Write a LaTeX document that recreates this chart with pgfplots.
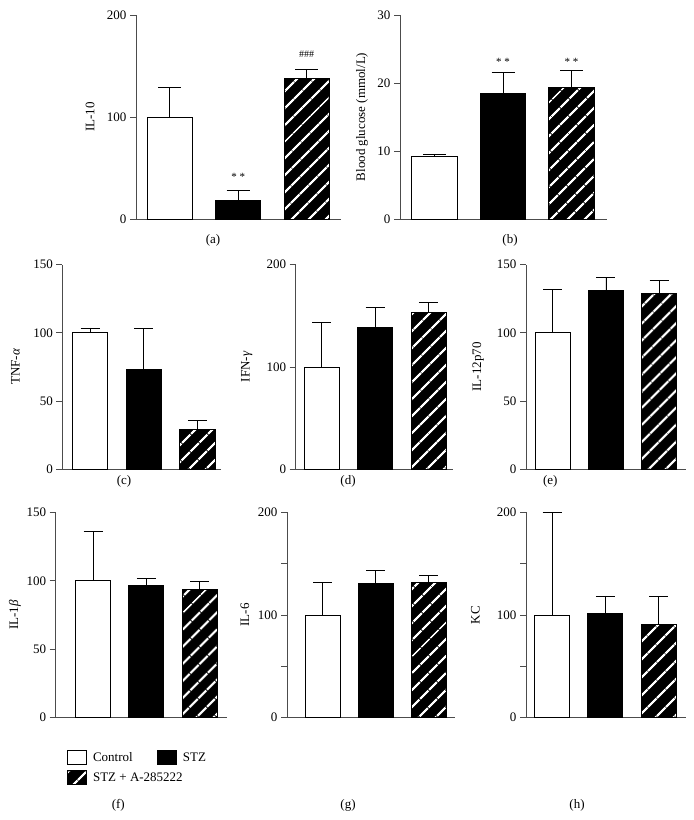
\documentclass[border=0pt]{standalone}
\usepackage{fontspec}
\setmainfont{Liberation Serif}
\usepackage{pgfplots}
\pgfplotsset{compat=1.18}
\usetikzlibrary{patterns.meta}

\newcommand{\tfont}{\fontsize{13}{15}\selectfont}

\pgfplotsset{
  panel/.style={
    scale only axis,
    anchor=south west,
    axis lines*=left,
    axis line style={black!70, line width=0.8pt},
    xtick=\empty,
    ymin=0,
    ytick pos=left,
    tick align=outside,
    major tick length=6pt,
    every tick/.style={black!70, line width=0.8pt},
    yticklabel style={font=\tfont},
    /pgf/number format/assume math mode=true,
    ylabel style={font=\tfont},
    clip=false,
  },
  % #1 = half width of the error cap
  errb/.style={error bars/.cd, y dir=plus, y explicit,
    error bar style={black, line width=0.8pt},
    error mark options={rotate=90, black, line width=0.8pt, mark size=#1}},
  ctrl/.style={ybar, bar shift=0pt, fill=white, draw=black, line width=0.8pt, errb=#1},
  stz/.style={ybar, bar shift=0pt, fill=black, draw=black, line width=0.8pt, errb=#1},
  stza/.style={ybar, bar shift=0pt, fill=black, draw=black, line width=0.8pt,
    postaction={pattern={Lines[angle=45, distance=13pt, line width=2.4pt]}, pattern color=white},
    errb=#1},
}

\begin{document}
\begin{tikzpicture}
\path[use as bounding box] (0,0) rectangle (694pt,820pt);

% (a) IL-10
\begin{axis}[panel, at={(136pt,601pt)}, width=205pt, height=204pt,
  xmin=-0.49, xmax=2.50, ymax=200, ytick={0,100,200}, bar width=0.657,
  ylabel={IL-10}, ylabel style={at={(axis description cs:-0.224,0.5)}, anchor=center}]
\addplot[ctrl=11.5pt] coordinates {(0,100) +- (0,29.4)};
\addplot[stz=11.5pt] coordinates {(1,18.6) +- (0,9.8)};
\addplot[stza=11.5pt] coordinates {(2,138.2) +- (0,8.5)};
\node[font=\fontsize{11}{12}\selectfont] at (axis cs:1,41) {* *};
\node[font=\fontsize{10}{11}\selectfont] at (axis cs:2,161.8) {\#\#\#};
\end{axis}

% (b) Blood glucose
\begin{axis}[panel, at={(400pt,601pt)}, width=207pt, height=204pt,
  xmin=-0.504, xmax=2.518, ymax=30, ytick={0,10,20,30}, bar width=0.664,
  ylabel={Blood glucose (mmol/L)}, ylabel style={at={(axis description cs:-0.184,0.5)}, anchor=center}]
\addplot[ctrl=11.5pt] coordinates {(0,9.16) +- (0,0.3)};
\addplot[stz=11.5pt] coordinates {(1,18.4) +- (0,3.2)};
\addplot[stza=11.5pt] coordinates {(2,19.4) +- (0,2.5)};
\node[font=\fontsize{11}{12}\selectfont] at (axis cs:1,23.1) {* *};
\node[font=\fontsize{11}{12}\selectfont] at (axis cs:2,23.1) {* *};
\end{axis}

% (c) TNF-alpha
\begin{axis}[panel, at={(62.3pt,350.7pt)}, width=158.7pt, height=204.6pt,
  xmin=-0.516, xmax=2.44, ymax=150, ytick={0,50,100,150}, bar width=0.657,
  ylabel={TNF-{\itshape α}}, ylabel style={at={(axis description cs:-0.296,0.5)}, anchor=center}]
\addplot[ctrl=9.5pt] coordinates {(0,100) +- (0,3.6)};
\addplot[stz=9.5pt] coordinates {(1,73.5) +- (0,29.6)};
\addplot[stza=9.5pt] coordinates {(2,29.3) +- (0,6.6)};
\end{axis}

% (d) IFN-gamma
\begin{axis}[panel, at={(295.7pt,350.7pt)}, width=157.3pt, height=204.6pt,
  xmin=-0.49, xmax=2.46, ymax=200, ytick={0,100,200}, bar width=0.657,
  ylabel={IFN-{\itshape γ}}, ylabel style={at={(axis description cs:-0.311,0.5)}, anchor=center}]
\addplot[ctrl=9.5pt] coordinates {(0,100) +- (0,43.7)};
\addplot[stz=9.5pt] coordinates {(1,138.8) +- (0,19.2)};
\addplot[stza=9.5pt] coordinates {(2,153.8) +- (0,9.1)};
\end{axis}

% (e) IL-12p70
\begin{axis}[panel, at={(526pt,350.7pt)}, width=160.3pt, height=204.6pt,
  xmin=-0.504, xmax=2.51, ymax=150, ytick={0,50,100,150}, bar width=0.657,
  ylabel={IL-12p70}, ylabel style={at={(axis description cs:-0.299,0.5)}, anchor=center}]
\addplot[ctrl=9.5pt] coordinates {(0,100) +- (0,31.7)};
\addplot[stz=9.5pt] coordinates {(1,131) +- (0,9.8)};
\addplot[stza=9.5pt] coordinates {(2,128.7) +- (0,9.6)};
\end{axis}

% (f) IL-1beta, holds the legend
\begin{axis}[panel, at={(55.7pt,102.3pt)}, width=171pt, height=205.4pt,
  xmin=-0.705, xmax=2.51, ymax=150, ytick={0,50,100,150}, bar width=0.658,
  ylabel={IL-1{\itshape β}}, ylabel style={at={(axis description cs:-0.238,0.5)}, anchor=center},
  legend columns=2,
  legend cell align=left,
  legend image code/.code={\draw[#1] (0pt,-7pt) rectangle (19pt,7pt);},
  legend style={at={(axis description cs:0.049,-0.143)}, anchor=north west,
    draw=none, fill=none, font=\tfont, row sep=4pt,
    nodes={inner sep=3pt}}]
\addplot[ctrl=9.5pt] coordinates {(0,100) +- (0,36.2)};
\addlegendentry{\hspace{3pt}\makebox[61pt][l]{Control}}
\addplot[stz=9.5pt] coordinates {(1,96.4) +- (0,5.2)};
\addlegendentry{\hspace{3pt}STZ}
\addplot[stza=9.5pt] coordinates {(2,93.5) +- (0,6.4)};
\addlegendentry{\hspace{3pt}\makebox[61pt][l]{STZ + A-285222}}
\end{axis}

% (g) IL-6
\begin{axis}[panel, at={(287pt,102.3pt)}, width=168.3pt, height=205.4pt,
  xmin=-0.675, xmax=2.5, ymax=200, ytick={0,50,100,150,200}, yticklabels={0,,100,,200},
  bar width=0.658,
  ylabel={IL-6}, ylabel style={at={(axis description cs:-0.25,0.5)}, anchor=center}]
\addplot[ctrl=9.5pt] coordinates {(0,100) +- (0,31.9)};
\addplot[stz=9.5pt] coordinates {(1,130.9) +- (0,12.7)};
\addplot[stza=9.5pt] coordinates {(2,132.2) +- (0,6.5)};
\end{axis}

% (h) KC
\begin{axis}[panel, at={(526pt,102.3pt)}, width=160.3pt, height=205.4pt,
  xmin=-0.49, xmax=2.52, ymax=200, ytick={0,50,100,150,200}, yticklabels={0,,100,,200},
  bar width=0.658,
  ylabel={KC}, ylabel style={at={(axis description cs:-0.316,0.5)}, anchor=center}]
\addplot[ctrl=9.5pt] coordinates {(0,100) +- (0,100)};
\addplot[stz=9.5pt] coordinates {(1,102) +- (0,16.5)};
\addplot[stza=9.5pt] coordinates {(2,91.3) +- (0,26.6)};
\end{axis}

% panel captions
\begin{scope}[every node/.style={font=\tfont}]
\node at (213pt,580pt) {(a)};
\node at (510pt,580pt) {(b)};
\node at (124pt,338.3pt) {(c)};
\node at (348pt,338.3pt) {(d)};
\node at (550.3pt,338.3pt) {(e)};
\node at (118.3pt,15pt) {(f)};
\node at (348pt,15pt) {(g)};
\node at (577pt,15pt) {(h)};
\end{scope}
\end{tikzpicture}
\end{document}
